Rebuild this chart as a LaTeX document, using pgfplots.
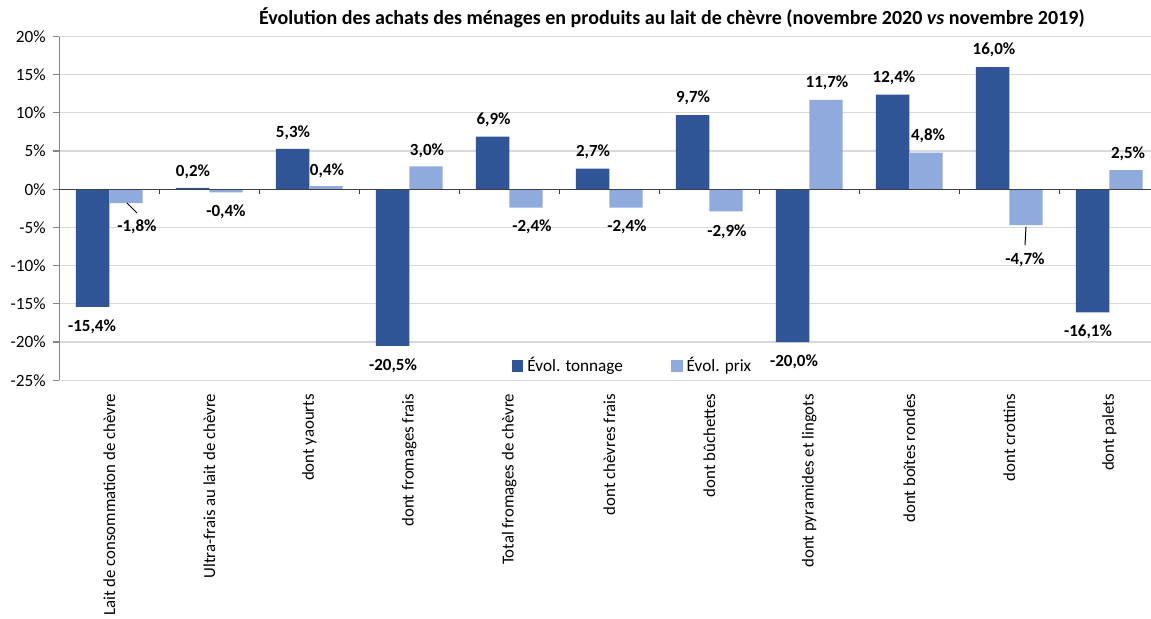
\documentclass[border=0pt]{standalone}
\usepackage{fontspec}
\setmainfont{Carlito}
\usepackage{pgfplots}
\usepackage{pgfplotstable}
\pgfplotsset{compat=1.18}

\definecolor{tonnage}{HTML}{2F5597}
\definecolor{prix}{HTML}{8FAADC}
\definecolor{gridgray}{HTML}{D9D9D9}
\definecolor{axisgray}{HTML}{868686}
\definecolor{zerodark}{HTML}{404040}

% x = position de la catégorie, t = évol. tonnage, p = évol. prix (%)
\pgfplotstableread{
x   t      p
0   -15.4  -1.8
1   0.2    -0.4
2   5.3    0.4
3   -20.5  3.0
4   6.9    -2.4
5   2.7    -2.4
6   9.7    -2.9
7   -20.0  11.7
8   12.4   4.8
9   16.0   -4.7
10  -16.1  2.5
}\achats

\newcommand{\lbl}{\bfseries\fontsize{8.5}{10}\selectfont}

\begin{document}
\begin{tikzpicture}[font=\fontsize{8.6}{10}\selectfont]
\path[use as bounding box] (-29.65pt,-119.35pt) rectangle (545.85pt,190.15pt);
\begin{axis}[
  width=550pt, height=171.9pt, scale only axis,
  clip=false,
  xmin=-0.5, xmax=10.5, ymin=-25, ymax=20,
  axis x line*=bottom, axis y line*=left,
  x axis line style={draw=none},
  y axis line style={axisgray, line width=0.6pt},
  ytick={-25,-20,...,20},
  yticklabels={-25\%,-20\%,-15\%,-10\%,-5\%,0\%,5\%,10\%,15\%,20\%},
  ytick style={axisgray, line width=0.6pt},
  tick align=outside, major tick length=3.3pt,
  ymajorgrids, grid style={gridgray, line width=0.6pt},
  xtick={0,...,10},
  x tick style={draw=none},
  xticklabels={Lait de consommation de chèvre, Ultra-frais au lait de chèvre,
    dont yaourts, dont fromages frais, Total fromages de chèvre,
    dont chèvres frais, dont bûchettes, dont pyramides et lingots,
    dont boîtes rondes, dont crottins, dont palets},
  xticklabel style={rotate=90, anchor=east, font=\fontsize{8.4}{10}\selectfont},
  ybar=0pt, bar width=16.67pt,
  legend style={at={(0.522,0.042)}, anchor=center, draw=none, fill=none,
    legend columns=2, /tikz/every even column/.append style={column sep=22pt}},
  legend image code/.code={\draw[#1,draw=none] (0pt,-2.9pt) rectangle (5.8pt,2.9pt);},
]
\addplot[fill=tonnage, draw=none] table[x=x, y=t] {\achats};
\addlegendentry{Évol. tonnage}
\addplot[fill=prix, draw=none] table[x=x, y=p] {\achats};
\addlegendentry{Évol. prix}

\draw[zerodark, line width=0.7pt] (axis cs:-0.5,0) -- (axis cs:10.5,0);
\pgfplotsinvokeforeach{0.5,1.5,2.5,3.5,4.5,5.5,6.5,7.5,8.5,9.5}{
  \draw[zerodark, line width=0.6pt] (axis cs:#1,0) -- ++(0pt,-2.5pt);
}

% étiquettes de données
\node[font=\lbl] at (axis cs:-0.173,-18.0) {-15,4\%};
\node[font=\lbl] at (axis cs:0.277,-4.93) {-1,8\%};
\node[font=\lbl] at (axis cs:0.837,2.26) {0,2\%};
\node[font=\lbl] at (axis cs:1.167,-2.97) {-0,4\%};
\node[font=\lbl] at (axis cs:1.837,7.37) {5,3\%};
\node[font=\lbl] at (axis cs:2.177,2.40) {0,4\%};
\node[font=\lbl] at (axis cs:2.837,-23.13) {-20,5\%};
\node[font=\lbl] at (axis cs:3.177,5.0) {3,0\%};
\node[font=\lbl] at (axis cs:3.842,9.07) {6,9\%};
\node[font=\lbl] at (axis cs:4.227,-4.93) {-2,4\%};
\node[font=\lbl] at (axis cs:4.837,4.88) {2,7\%};
\node[font=\lbl] at (axis cs:5.177,-4.93) {-2,4\%};
\node[font=\lbl] at (axis cs:5.837,11.95) {9,7\%};
\node[font=\lbl] at (axis cs:6.177,-5.6) {-2,9\%};
\node[font=\lbl] at (axis cs:6.847,-22.6) {-20,0\%};
\node[font=\lbl] at (axis cs:7.177,13.9) {11,7\%};
\node[font=\lbl] at (axis cs:7.847,14.57) {12,4\%};
\node[font=\lbl] at (axis cs:8.187,6.98) {4,8\%};
\node[font=\lbl] at (axis cs:8.847,18.23) {16,0\%};
\node[font=\lbl] at (axis cs:9.157,-9.25) {-4,7\%};
\node[font=\lbl] at (axis cs:9.787,-18.68) {-16,1\%};
\node[font=\lbl] at (axis cs:10.187,4.62) {2,5\%};

% lignes de rappel
\draw[black, line width=0.5pt] (axis cs:0.177,-1.79) -- (axis cs:0.277,-3.1);
\draw[black, line width=0.5pt] (axis cs:9.167,-4.93) -- (axis cs:9.157,-7.29);
\end{axis}
\node[font=\bfseries\fontsize{10}{12}\selectfont] at (306.35pt,181pt)
  {Évolution des achats des ménages en produits au lait de chèvre (novembre 2020 \textit{vs} novembre 2019)};
\end{tikzpicture}
\end{document}
